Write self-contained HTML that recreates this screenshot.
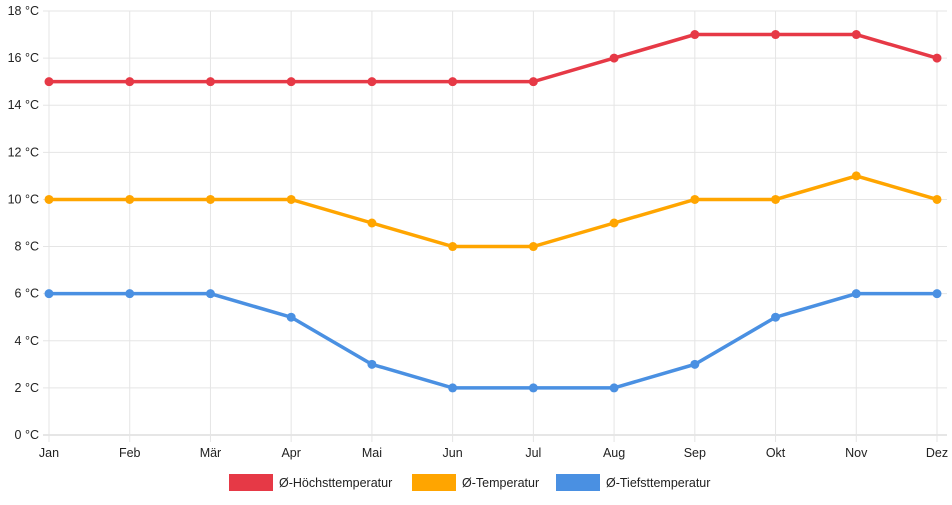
<!DOCTYPE html>
<html><head><meta charset="utf-8"><style>
body{margin:0;background:#fff;font-family:"Liberation Sans",sans-serif}
svg text{font-family:"Liberation Sans",sans-serif;font-size:12.5px;fill:#222}
</style></head><body>
<svg width="952" height="500" id="c"></svg>
<script>
const months=["Jan","Feb","Mär","Apr","Mai","Jun","Jul","Aug","Sep","Okt","Nov","Dez"];
const highs=[15,15,15,15,15,15,15,16,17,17,17,16];
const avgs=[10,10,10,10,9,8,8,9,10,10,11,10];
const lows=[6,6,6,5,3,2,2,2,3,5,6,6];
const yTicks=[0,2,4,6,8,10,12,14,16,18];
const seriesNames=["Ø-Höchsttemperatur","Ø-Temperatur","Ø-Tiefsttemperatur"];
const colors=["#e63946","#ffa500","#4a90e2"];
const NS="http://www.w3.org/2000/svg",svg=document.getElementById('c');
const x0=49,x1=937,yTop=11,yBot=435;
const xs=i=>x0+i*(x1-x0)/(months.length-1);
const ys=v=>yBot-v*(yBot-yTop)/18;
function el(t,a,p){const e=document.createElementNS(NS,t);for(const k in a)e.setAttribute(k,a[k]);(p||svg).appendChild(e);return e;}
yTicks.forEach(v=>{
 const g=el('line',{x1:x0-6,x2:x1+10,y1:ys(v),y2:ys(v),stroke:v===0?'#ccc':'#e5e5e5'});
 
 
 const t=el('text',{x:x0-10,y:ys(v)+4,'text-anchor':'end'});t.textContent=v+' °C';
 
 
});
months.forEach((m,i)=>{
 const g=el('line',{x1:xs(i),x2:xs(i),y1:yTop,y2:yBot+7,stroke:'#e5e5e5'});
 
 
 const t=el('text',{x:xs(i),y:yBot+22,'text-anchor':'middle'});t.textContent=m;
 
 
});
[highs,avgs,lows].forEach((d,s)=>{
 const p=el('polyline',{points:d.map((v,i)=>xs(i)+','+ys(v)).join(' '),fill:'none',stroke:colors[s],'stroke-width':3.5});
 
 
 d.forEach((v,i)=>{const c=el('circle',{cx:xs(i),cy:ys(v),r:4.5,fill:colors[s]});
  
  });
});
const lx=[229,412,556];
seriesNames.forEach((n,s)=>{
 const r=el('rect',{x:lx[s],y:474,width:44,height:17,fill:colors[s]});
 
 
 const t=el('text',{x:lx[s]+50,y:487});t.textContent=n;
 
 
});
</script>
</body></html>
